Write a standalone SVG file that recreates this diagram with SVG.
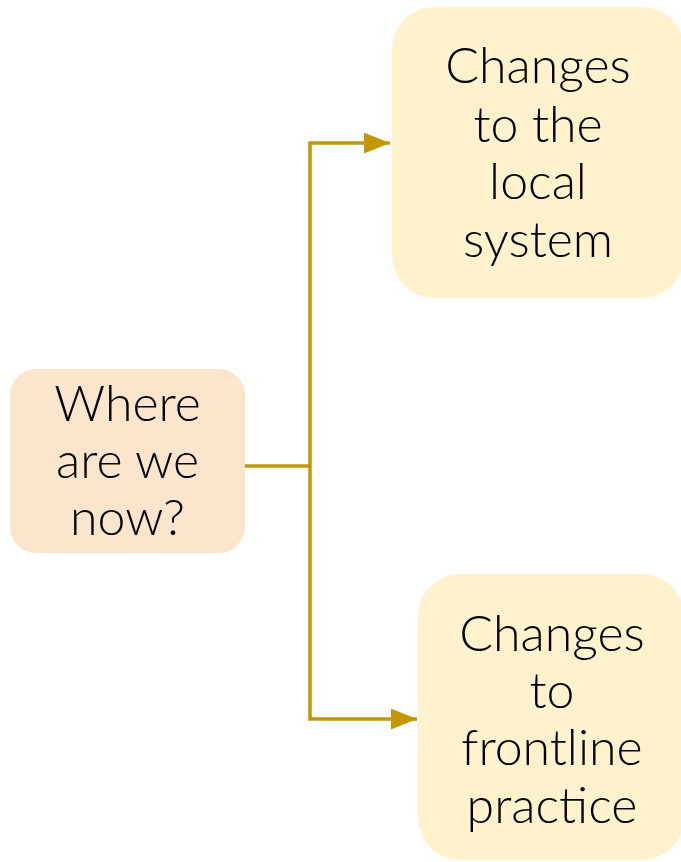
<svg xmlns="http://www.w3.org/2000/svg" width="681" height="862" viewBox="0 0 681 862">
<defs>
<style>
.lbl{font-family:Lato,"Noto Sans",sans-serif;font-weight:300;font-size:50px;fill:#000;text-anchor:middle}
.conn{fill:none;stroke:#C4960A;stroke-width:3.5}
</style>
<marker id="ah" markerWidth="7.5" markerHeight="6" refX="7.5" refY="3" orient="auto" markerUnits="strokeWidth">
<path d="M0,0 L7.5,3 L0,6 Z" fill="#C4960A"/>
</marker>
</defs>
<rect width="681" height="862" fill="#fff"/>
<g id="connectors">
<path class="conn" d="M243,466 H310"/>
<path class="conn" d="M310,466 V143 H390" marker-end="url(#ah)"/>
<path class="conn" d="M310,466 V719 H417" marker-end="url(#ah)"/>
</g>
<g id="node-where">
<rect x="10" y="369" width="235" height="184" rx="26" fill="#FCE5CD"/>
<text class="lbl" x="127.5" y="421">Where</text>
<text class="lbl" x="127.5" y="478">are we</text>
<text class="lbl" x="127.5" y="535">now?</text>
</g>
<g id="node-local">
<rect x="392" y="7" width="292" height="291" rx="42" fill="#FFF2CC"/>
<text class="lbl" x="538" y="83">Changes</text>
<text class="lbl" x="538" y="142">to the</text>
<text class="lbl" x="538" y="199">local</text>
<text class="lbl" x="538" y="257">system</text>
</g>
<g id="node-frontline">
<rect x="418" y="574" width="266" height="286" rx="42" fill="#FFF2CC"/>
<text class="lbl" x="552" y="651">Changes</text>
<text class="lbl" x="552" y="708">to</text>
<text class="lbl" x="552" y="765">frontline</text>
<text class="lbl" x="552" y="823">practice</text>
</g>
</svg>
